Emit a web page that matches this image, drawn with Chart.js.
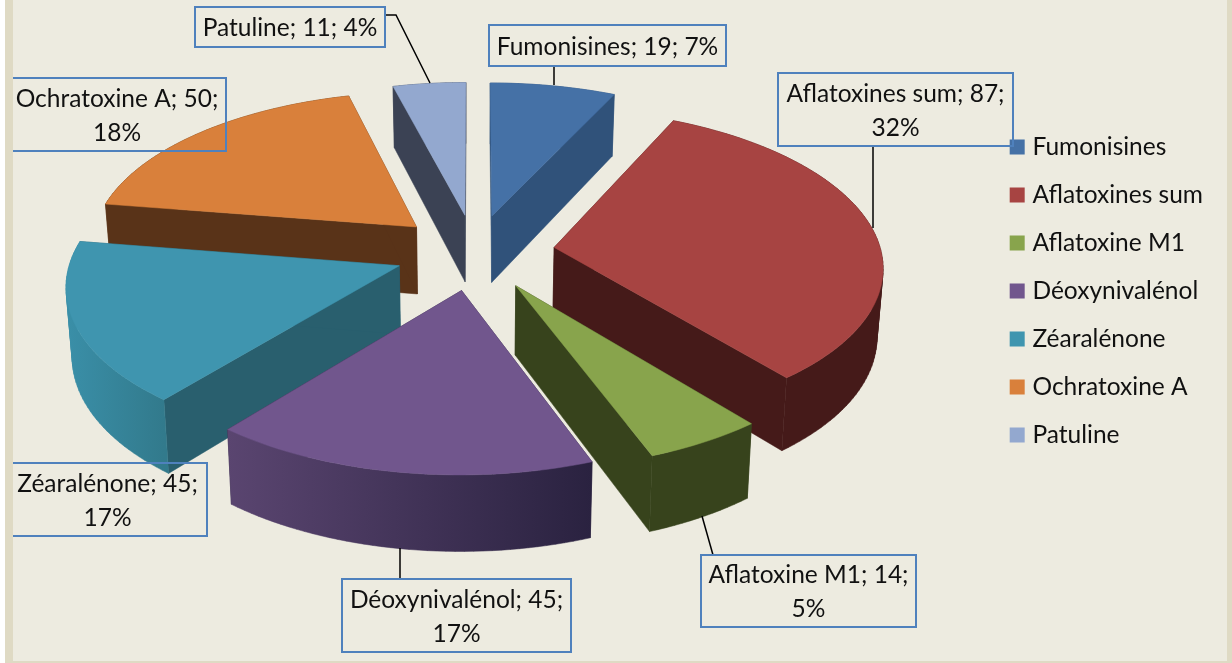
<!DOCTYPE html>
<html>
<head>
<meta charset="utf-8">
<script src="https://cdn.jsdelivr.net/npm/chart.js@4"></script>
<style>
body { margin: 0; background: #edebe0; }
canvas { display: block; }
</style>
</head>
<body>
<canvas id="toxinChart" width="1232" height="663"></canvas>
<script>
const categories = ['Fumonisines', 'Aflatoxines sum', 'Aflatoxine M1', 'Déoxynivalénol', 'Zéaralénone', 'Ochratoxine A', 'Patuline'];
const values = [19, 87, 14, 45, 45, 50, 11];
const percents = [7, 32, 5, 17, 17, 18, 4];

const topColors = ['#4571a6', '#a74442', '#88a44c', '#71568d', '#3f95af', '#d9803b', '#93a8cf'];
const sideColors = ['#30527a', '#451a19', '#37431c', '#2e2542', '#295f6e', '#593318', '#3b4254'];
// left and right colour of the curved outer wall
const rimColors = [
    ['#30527a', '#30527a'], ['#451a19', '#451a19'], ['#37431c', '#37431c'], ['#5a4570', '#2a2240'],
    ['#3a8fa8', '#327a8c'], ['#593318', '#593318'], ['#3b4254', '#3b4254']
];

// label boxes: x, y, w, h
const labelBoxes = [[489, 25, 237, 41], [778, 73, 235, 73], [701, 555, 215, 72], [342, 579, 229, 73], [8, 463, 199, 73], [8, 78, 218, 73], [195, 7, 190, 40]];
const leaderLines = [
    [[554, 66], [554, 85]],
    [[873, 146], [873, 228]],
    [[702, 516], [713, 555]],
    [[400, 548], [400, 579]],
    [],
    [],
    [[385, 15], [396, 15], [430, 83]]
];

// tilted view of the pie
const shiftX = -20.5;
const shiftY = -39;
const spreadX = 327;
const spreadY = 155;
const perspective = 0.11;
const explode = 0.245;
const depth = 68;
const wallShrink = 0.985;

function project(cx, cy, u, v) {
    let w = 1 + perspective * v;
    return { x: cx + spreadX * u / w, y: cy - spreadY * v / w, v: v };
}

function fillPoly(ctx, pts, fill) {
    ctx.beginPath();
    pts.forEach((p, i) => i ? ctx.lineTo(p.x, p.y) : ctx.moveTo(p.x, p.y));
    ctx.closePath();
    ctx.fillStyle = fill;
    ctx.fill();
    ctx.strokeStyle = fill;
    ctx.lineWidth = 0.5;
    ctx.stroke();
}

function drawSlice(ctx, arc, i) {
    let cx = arc.x + shiftX;
    let cy = arc.y + shiftY;
    let mid = (arc.startAngle + arc.endAngle) / 2;
    let ox = Math.cos(mid) * explode;
    let oy = -Math.sin(mid) * explode;
    let lower = p => ({ x: cx + (p.x - cx) * wallShrink, y: p.y + depth / (1 + 0.09 * p.v) });
    let apex = project(cx, cy, ox, oy);
    let rim = [];
    let steps = Math.ceil((arc.endAngle - arc.startAngle) * 40);
    for (let s = 0; s <= steps; s++) {
        let a = arc.startAngle + (arc.endAngle - arc.startAngle) * s / steps;
        rim.push(project(cx, cy, ox + Math.cos(a), oy - Math.sin(a)));
    }
    let first = rim[0];
    let last = rim[rim.length - 1];

    // radial walls first, the outer wall over them, the top last
    fillPoly(ctx, [apex, first, lower(first), lower(apex)], sideColors[i]);
    fillPoly(ctx, [apex, last, lower(last), lower(apex)], sideColors[i]);

    let minX = Math.min(...rim.map(p => p.x));
    let maxX = Math.max(...rim.map(p => p.x));
    let grad = ctx.createLinearGradient(minX, 0, maxX, 0);
    grad.addColorStop(0, rimColors[i][0]);
    grad.addColorStop(1, rimColors[i][1]);
    // quads of the same winding in one path: a single outline folds over itself at the widest point
    ctx.beginPath();
    for (let s = 0; s < steps; s++) {
        let p = rim[s];
        let q = rim[s + 1];
        if (q.x < p.x) {
            [p, q] = [q, p];
        }
        let lp = lower(p);
        let lq = lower(q);
        ctx.moveTo(p.x, p.y);
        ctx.lineTo(q.x, q.y);
        ctx.lineTo(lq.x, lq.y);
        ctx.lineTo(lp.x, lp.y);
        ctx.closePath();
    }
    ctx.fillStyle = grad;
    ctx.fill();
    ctx.strokeStyle = grad;
    ctx.lineWidth = 0.5;
    ctx.stroke();

    fillPoly(ctx, [apex].concat(rim), topColors[i]);
}

function labelLines(ctx, i, width) {
    let oneLine = categories[i] + '; ' + values[i] + '; ' + percents[i] + '%';
    if (ctx.measureText(oneLine).width < width) {
        return [oneLine];
    }
    return [categories[i] + '; ' + values[i] + ';', percents[i] + '%'];
}

const pie3d = {
    id: 'pie3d',
    beforeDraw(chart) {
        let ctx = chart.ctx;
        ctx.fillStyle = '#edebe0';
        ctx.fillRect(0, 0, chart.width, chart.height);
    },
    beforeDatasetDraw(chart, args) {
        let ctx = chart.ctx;
        let arcs = args.meta.data;
        let order = arcs.map((a, i) => i);
        // back slices first
        order.sort((p, q) => Math.sin((arcs[p].startAngle + arcs[p].endAngle) / 2) - Math.sin((arcs[q].startAngle + arcs[q].endAngle) / 2));
        ctx.save();
        order.forEach(i => drawSlice(ctx, arcs[i], i));
        ctx.restore();
        return false;
    },
    afterDatasetsDraw(chart) {
        let ctx = chart.ctx;
        ctx.save();
        ctx.strokeStyle = '#000000';
        ctx.lineWidth = 1.5;
        leaderLines.forEach(line => {
            if (!line.length) return;
            ctx.beginPath();
            line.forEach((p, i) => i ? ctx.lineTo(p[0], p[1]) : ctx.moveTo(p[0], p[1]));
            ctx.stroke();
        });
        ctx.font = '24.5px Lato';
        ctx.textAlign = 'center';
        ctx.textBaseline = 'middle';
        labelBoxes.forEach((b, i) => {
            ctx.strokeStyle = '#4f81bd';
            ctx.lineWidth = 2;
            ctx.strokeRect(b[0], b[1], b[2], b[3]);
            ctx.fillStyle = '#111111';
            let lines = labelLines(ctx, i, b[2]);
            lines.forEach((t, n) => {
                ctx.fillText(t, b[0] + b[2] / 2, b[1] + b[3] / 2 + 1.5 + (n - (lines.length - 1) / 2) * 34);
            });
        });
        ctx.restore();
    },
    afterDraw(chart) {
        let ctx = chart.ctx;
        ctx.fillStyle = '#ffffff';
        ctx.fillRect(0, 0, 5, chart.height);
        ctx.fillStyle = '#dfdac4';
        ctx.fillRect(5, 0, 8, chart.height);
        ctx.fillRect(1227, 0, 5, chart.height);
        ctx.fillRect(13, 661, 1214, 2);
    }
};

new Chart(document.getElementById('toxinChart'), {
    type: 'pie',
    data: {
        labels: categories,
        datasets: [{
            data: values,
            backgroundColor: topColors,
            // the legend swatch is a small box with a thick border
            borderColor: topColors,
            borderWidth: 9
        }]
    },
    options: {
        responsive: false,
        animation: false,
        layout: { padding: { right: 19, bottom: 81 } },
        plugins: {
            title: { display: false },
            tooltip: { enabled: false },
            legend: {
                position: 'right',
                labels: {
                    boxWidth: 6,
                    boxHeight: 6,
                    padding: 23.5,
                    color: '#111111',
                    font: { family: 'Lato', size: 24.5 }
                }
            }
        }
    },
    plugins: [pie3d]
});
</script>
</body>
</html>
